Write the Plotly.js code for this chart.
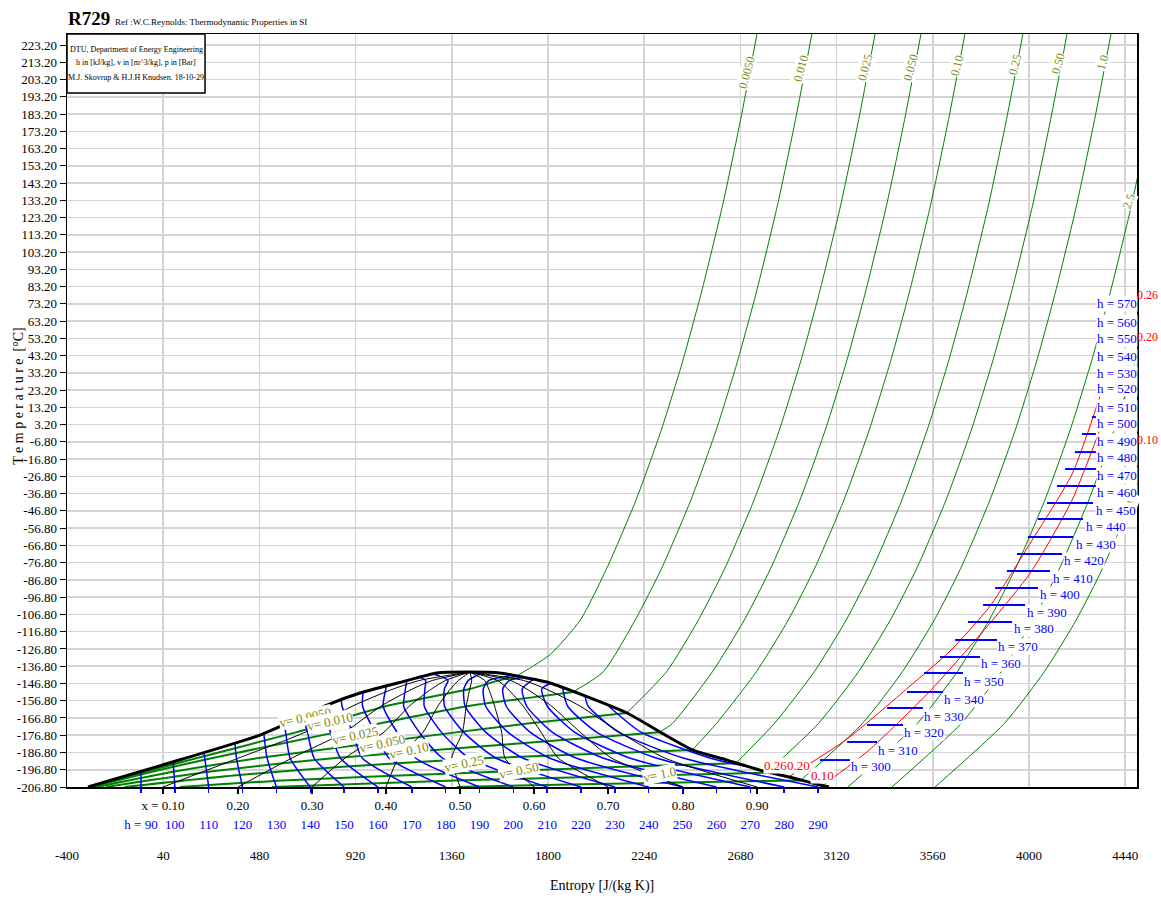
<!DOCTYPE html>
<html><head><meta charset="utf-8">
<script src="https://cdn.plot.ly/plotly-3.0.1.min.js"></script>
<style>html,body{margin:0;padding:0;background:#fff}#chart{width:1161px;height:898px}</style>
</head><body><div id="chart"></div>
<script>
// ---------- axes ----------
const sTicks = [-400,40,480,920,1360,1800,2240,2680,3120,3560,4000,4440];
const tTicks = [-206.8,-196.8,-186.8,-176.8,-166.8,-156.8,-146.8,-136.8,-126.8,-116.8,-106.8,-96.8,-86.8,-76.8,-66.8,-56.8,-46.8,-36.8,-26.8,-16.8,-6.8,3.2,13.2,23.2,33.2,43.2,53.2,63.2,73.2,83.2,93.2,103.2,113.2,123.2,133.2,143.2,153.2,163.2,173.2,183.2,193.2,203.2,213.2,223.2];

// ---------- bottom scales ----------
const qualityVals = [0.10,0.20,0.30,0.40,0.50,0.60,0.70,0.80,0.90];
const qualityBottomS = [39,382,721,1059,1398,1736,2075,2418,2756];
const hBottomVals = [90,100,110,120,130,140,150,160,170,180,190,200,210,220,230,240,250,260,270,280,290];
const hBottomS = [-61.5,93.3,248.1,402.9,557.8,712.6,867.4,1022.2,1177,1331.9,1486.7,1641.5,1796.3,1951.1,2106,2260.8,2415.6,2570.5,2725.3,2880.1,3034.9];

// ---------- saturation dome ----------
const domeS = [-304,39,483,620,789,940,1123,1292,1443,1580,1658,1809,1960,2162,2312,2463,2619,2770,2921,3044,3085];
const domeT = [-206.8,-194.0,-176.7,-169.1,-159.3,-152.3,-146.2,-140.7,-140.2,-140.7,-142.5,-146.5,-153.5,-163.9,-174.9,-185.4,-191.2,-197.0,-201.6,-205.6,-206.8];

// ---------- quality lines ----------
const qualityLineT = [-206.8,-190,-175,-160,-150,-145,-140.2];
const qualityLineS = [
  [39,385,690,904,1092,1214,1443],
  [382,629,870,1035,1180,1273,1443],
  [721,872,1050,1165,1267,1332,1443],
  [1059,1116,1229,1296,1354,1391,1443],
  [1398,1360,1409,1426,1442,1451,1443],
  [1736,1603,1588,1556,1529,1510,1443],
  [2075,1847,1768,1687,1616,1569,1443],
  [2418,2090,1947,1817,1703,1628,1443],
  [2756,2334,2127,1948,1791,1687,1443]
];

// ---------- isenthalps inside the dome ----------
const hDomeVals = [90,100,110,120,130,140,150,160,170,180,190,200,210,220,230,240,250,260,270,280,290,300];
const hDomeS = [
  [-61.5,-62],[93.3,85.8],[248.1,230,225.7],[402.9,375,368],[557.8,515,500],
  [712.6,620,600,592],[867.4,730,700,679],[1022.2,850,805,765],
  [1177,950,906,858,854.6],[1331.9,1072,1008,952,954],
  [1486.7,1194,1109,1046,1058,1061],[1641.5,1317,1211,1140,1148,1155],
  [1796.3,1439,1312,1234,1237,1240,1213],[1951.1,1561,1414,1327,1326,1343,1272],
  [2106,1684,1515,1421,1415,1436,1500],[2260.8,1806,1616,1515,1504,1530,1635],
  [2415.6,1928,1718,1609,1593,1624,1686],[2570.5,2051,1819,1703,1682,1731],
  [2725.3,2173,1921,1797,1771,1808.5],[2880.1,2295,2022,1890,1867],
  [3034.9,2418,2123,1984,1970],[2708,2540,2225,2078]
];
const hDomeT = [
  [-206.8,-197.8],[-206.8,-192.2],[-206.8,-190,-186.7],[-206.8,-190,-181.1],[-206.8,-190,-175.6],
  [-206.8,-190,-175,-170.5],[-206.8,-190,-175,-165.5],[-206.8,-190,-175,-160.5],
  [-206.8,-190,-175,-160,-156.1],[-206.8,-190,-175,-160,-151.7],
  [-206.8,-190,-175,-160,-150,-148.1],[-206.8,-190,-175,-160,-150,-145],
  [-206.8,-190,-175,-160,-150,-145,-143.1],[-206.8,-190,-175,-160,-150,-145,-141.2],
  [-206.8,-190,-175,-160,-150,-145,-140.6],[-206.8,-190,-175,-160,-150,-145,-142.1],
  [-206.8,-190,-175,-160,-150,-145,-143.4],[-206.8,-190,-175,-160,-150,-144.6],
  [-206.8,-190,-175,-160,-150,-146.8],[-206.8,-190,-175,-160,-149.5],
  [-206.8,-190,-175,-160,-154.4],[-195,-190,-175,-160]
];

// ---------- isochores ----------
const vNames = ['0.0050','0.010','0.025','0.050','0.10','0.25','0.50','1.0'];
const vDomeS = [
  [-297.6,-43,195.6,651,1057,1441,1575,1655],
  [-289,-11,266,834,1430,1720,1915],
  [-264,86,477,1387,1707,2160],
  [-222,248,829,1622,2310],
  [-137,374,862,1532,2460],
  [116,585,1358,2142,2660],
  [538,1372,1994,2800],
  [1383,2014,2955]
];
const vDomeT = [
  [-206.8,-198,-190,-175,-160,-150,-145,-142.6],
  [-206.8,-198,-190,-175,-160,-155,-151.7],
  [-206.8,-198,-190,-175,-170,-163.9],
  [-206.8,-198,-190,-182,-175],
  [-206.8,-200,-195,-190,-185.4],
  [-206.8,-203,-199,-195,-193],
  [-206.8,-203,-201,-198.5],
  [-206.8,-205,-203]
];
const vOutS = [
  [2756,2681,2598,2502,2416,2318,2204,2069,1948,1810,1655],
  [3007,2932,2849,2753,2667,2569,2455,2320,2199,2053,1915],
  [3296,3221,3138,3042,2956,2858,2744,2609,2488,2342,2160],
  [3506,3431,3348,3252,3166,3068,2954,2819,2698,2552,2369,2310],
  [3707,3632,3549,3453,3367,3269,3155,3020,2899,2753,2570,2460],
  [3972,3897,3814,3718,3632,3534,3420,3285,3164,3018,2835,2660],
  [4174,4099,4016,3920,3834,3736,3622,3487,3366,3220,3037,2800],
  [4375,4300,4217,4121,4035,3937,3823,3688,3567,3421,3238,2955]
];
const vOutT = [
  [229.6,180,130,80,40,0,-40,-80,-110,-130,-142.6],
  [229.6,180,130,80,40,0,-40,-80,-110,-140,-151.7],
  [229.6,180,130,80,40,0,-40,-80,-110,-140,-163.9],
  [229.6,180,130,80,40,0,-40,-80,-110,-140,-170,-175],
  [229.6,180,130,80,40,0,-40,-80,-110,-140,-170,-185.4],
  [229.6,180,130,80,40,0,-40,-80,-110,-140,-170,-193],
  [229.6,180,130,80,40,0,-40,-80,-110,-140,-170,-198.5],
  [229.6,180,130,80,40,0,-40,-80,-110,-140,-170,-203]
];
const vLowNames = ['2.5','5.0','10'];
const vLowT = [-206.8,-170,-140,-110,-80,-40,0,40,80,130,180];
const vLowS = [
  [3172,3489,3672,3818,3939,4074,4188,4286,4372,4468,4551.5],
  [3373,3690,3873,4019,4140,4275,4389,4487,4573],
  [3570,3887,4070,4216,4337,4472,4586]
];

// ---------- isobars (red) ----------
const pNames = ['0.26','0.20'];
const isobarS = [[2900,3168,3451,3639,3822,4009,4197,4339],[3060,3264,3543,3822,4009,4197,4339]];
const isobarT = [[-201,-179.0,-148.8,-128.0,-101.9,-64.8,-25.4,25.0],[-205.6,-185.9,-151.8,-111.8,-82.2,-40.5,5.3]];

// ---------- isenthalp segments in the gas region ----------
const hSegVals = [300,310,320,330,340,350,360,370,380,390,400,410,420,430,440,450,460,470,480,490,500,510];
const hSegT = [-191.2,-180.7,-170.9,-161.0,-151.7,-140.7,-131.5,-121.6,-111.2,-101.3,-91.5,-81.6,-71.8,-61.9,-51.5,-42.2,-32.4,-22.5,-12.7,-2.2,7.6,16.9];
const hSegS0 = [3044,3168,3259,3351,3442,3520,3593,3662,3721,3790,3845,3899,3945,3995,4041,4082,4128,4165,4210,4242,4288,4325];
const hSegS1 = [3181,3305,3424,3515,3607,3698,3776,3854,3922,3982,4041,4096,4151,4201,4247,4293,4306,4306,4306,4306,4306,4325];

// ---------- labels ----------
const hLabelVals = [300,310,320,330,340,350,360,370,380,390,400,410,420,430,440,450,460,470,480,490,500,510,520,530,540,550,560,570];
const hLabelS = [3181,3305,3424,3515,3607,3698,3776,3854,3927,3986,4046,4105,4156,4210,4256,4302,4306,4306,4306,4306,4306,4306,4306,4306,4306,4306,4306,4306];
const hLabelT = [-195.2,-185.4,-175.5,-165.7,-155.8,-145.4,-135.5,-125.1,-115.2,-105.4,-95.5,-85.7,-75.8,-66.0,-56.1,-46.3,-36.4,-26.0,-16.1,-6.3,4.1,13.4,24.4,33.1,42.9,53.4,62.6,73.7];
const topVLabelS = [2710,2957,3250,3460,3671,3936,4133,4338];
const topVLabelT = [207.5,209.9,209.9,210.4,211.0,211.6,212.2,213.3];
const domeVLabelS = [689,803,917,1041,1164,1416,1667,2308];
const domeVLabelT = [-166.8,-169.1,-176.7,-181.3,-185.4,-192.9,-197.5,-199.8];
const sideVLabelS = [4457,4453,4471];
const sideVLabelT = [132.8,33.1,-40.5];
const redLabelText = ['0.26','0.20','0.10','0.26','0.20','0.10'];
const redLabelS = [2783,2888,2998,4490,4490,4490];
const redLabelT = [-194.05,-194.05,-200.2,78.3,53.9,-5.7];
const infoLines = ['DTU, Department of Energy Engineering','h in [kJ/kg], v in [m^3/kg], p in [Bar]','M.J. Skovrup &amp; H.J.H Knudsen. 18-10-29'];

// ---------- build ----------
const SERIF = 'Liberation Serif, Times New Roman, serif';
const GREEN = '#008000', OLIVE = '#7c8a12', BLUE = '#0000ff', RED = '#ff0000';
const traces = [];
function line(s, t, color, width, shape) {
  traces.push({type:'scatter', mode:'lines', x:s, y:t, hoverinfo:'skip',
    line:{color:color, width:width, shape:shape||'linear', smoothing:0.6}, cliponaxis:true});
}
vOutS.forEach((s,i)=>line(s, vOutT[i], GREEN, 1, 'spline'));
vLowS.forEach((s)=>line(s, vLowT.slice(0, s.length), GREEN, 1, 'spline'));
vDomeS.forEach((s,i)=>line(s, vDomeT[i], GREEN, 2, 'spline'));
hDomeS.forEach((s,i)=>line(s, hDomeT[i], BLUE, 1.5, 'spline'));
qualityLineS.forEach((s)=>line(s, qualityLineT, '#000000', 1, 'spline'));
isobarS.forEach((s,i)=>line(s, isobarT[i], RED, 1, 'spline'));
hSegVals.forEach((h,i)=>line([hSegS0[i], hSegS1[i]], [hSegT[i], hSegT[i]], BLUE, 2));
line(domeS, domeT, '#000000', 3, 'spline');
traces.push({type:'scatter', mode:'markers', x:[null], y:[null], xaxis:'x2', hoverinfo:'skip'});
traces.push({type:'scatter', mode:'markers', x:[null], y:[null], xaxis:'x3', hoverinfo:'skip'});

const ann = [];
topVLabelS.forEach((s,i)=>ann.push({x:s, y:topVLabelT[i], xref:'x', yref:'y', text:vNames[i], showarrow:false,
  textangle:-75, bgcolor:'white', borderpad:0, font:{family:SERIF, size:12, color:OLIVE}}));
domeVLabelS.forEach((s,i)=>ann.push({x:s, y:domeVLabelT[i], xref:'x', yref:'y', text:'v= '+vNames[i], showarrow:false,
  textangle:-12, bgcolor:'white', borderpad:0, font:{family:SERIF, size:13, color:OLIVE}}));
sideVLabelS.forEach((s,i)=>ann.push({x:s, y:sideVLabelT[i], xref:'x', yref:'y', text:vLowNames[i], showarrow:false,
  textangle:-70, bgcolor:'white', borderpad:0, font:{family:SERIF, size:12, color:OLIVE}}));
hLabelVals.forEach((h,i)=>ann.push({x:hLabelS[i], y:hLabelT[i], xref:'x', yref:'y', text:'h = '+h, showarrow:false,
  xanchor:'left', bgcolor:'white', borderpad:0, font:{family:SERIF, size:13, color:BLUE}}));
redLabelText.forEach((t,i)=>ann.push({x:redLabelS[i], y:redLabelT[i], xref:'x', yref:'y', text:t, showarrow:false,
  xanchor:'left', bgcolor: i>=3 ? 'rgba(0,0,0,0)' : 'white', borderpad:0, font:{family:SERIF, size: i>=3 ? 12 : 13, color:RED}}));
infoLines.forEach((t,i)=>ann.push({xref:'paper', yref:'paper', x:0.0645, y:[0.980,0.9615,0.9416][i], xanchor:'center', yanchor:'middle',
  showarrow:false, text:t, font:{family:SERIF, size:8, color:'black'}}));
ann.push({xref:'paper', yref:'paper', x:0.5, y:-0.1315, xanchor:'center', yanchor:'middle', showarrow:false,
  text:'Entropy [J/(kg K)]', font:{family:SERIF, size:14, color:'black'}});
ann.push({xref:'paper', yref:'paper', x:-0.0455, y:0.52, xanchor:'center', yanchor:'middle', showarrow:false, textangle:-90,
  text:'T e m p e r a t u r e  [°C]', font:{family:SERIF, size:14, color:'black'}});

const layout = {
  width:1161, height:898, margin:{l:67, r:24, t:34, b:111},
  paper_bgcolor:'white', plot_bgcolor:'white', showlegend:false,
  title:{text:'<b>R729</b> <span style="font-size:9px">Ref :W.C.Reynolds: Thermodynamic Properties in SI</span>',
    x:68/1161, xanchor:'left', y:1-18/898, yanchor:'middle', font:{family:SERIF, size:19, color:'black'}},
  shapes:[{type:'rect', xref:'paper', yref:'paper', x0:0, x1:0.129, y0:0.9216, y1:1, layer:'above',
    fillcolor:'white', line:{color:'black', width:1.5}}],
  xaxis:{range:[-400,4494], tickvals:sTicks, ticktext:sTicks.map(v=>String(v)), ticks:'', showgrid:true,
    gridcolor:'#d4d4d4', gridwidth:1.5, zeroline:false, showline:true, linecolor:'black', linewidth:1.5, mirror:true,
    tickfont:{family:SERIF, size:13, color:'black'}, ticklabelstandoff:56},
  xaxis2:{overlaying:'x', anchor:'y', side:'bottom', range:[-400,4494], tickvals:qualityBottomS,
    ticktext:qualityVals.map((q,i)=>(i===0?'x = ':'')+q.toFixed(2)), ticks:'outside', ticklen:6, tickwidth:1.5,
    tickcolor:'black', showgrid:false, zeroline:false, showline:false, tickfont:{family:SERIF, size:13, color:'black'}},
  xaxis3:{overlaying:'x', anchor:'y', side:'bottom', range:[-400,4494], tickvals:hBottomS,
    ticktext:hBottomVals.map((h,i)=>(i===0?'h = ':'')+h), ticks:'outside', ticklen:5, tickwidth:1.5,
    tickcolor:BLUE, showgrid:false, zeroline:false, showline:false, ticklabelstandoff:20,
    tickfont:{family:SERIF, size:13, color:BLUE}},
  yaxis:{range:[-206.8,229.6], tickvals:tTicks, ticktext:tTicks.map(v=>v.toFixed(2)), ticks:'outside', ticklen:6,
    tickcolor:'black', showgrid:true, gridcolor:'#d4d4d4', gridwidth:1.5, zeroline:false, showline:true,
    linecolor:'black', linewidth:1.5, mirror:true, tickfont:{family:SERIF, size:13, color:'black'}},
  annotations:ann
};
Plotly.newPlot('chart', traces, layout, {staticPlot:true});
</script></body></html>
